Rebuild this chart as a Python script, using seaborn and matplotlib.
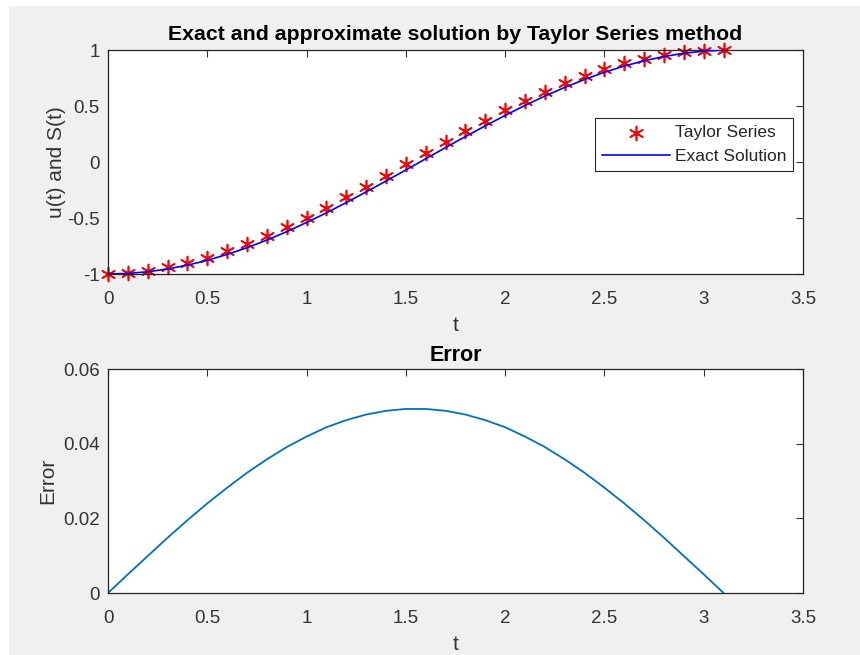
import matplotlib
matplotlib.use("Agg")
import matplotlib.pyplot as plt
from matplotlib.patches import Rectangle
import seaborn as sns
import pandas as pd

t_vals = [0.0, 0.1, 0.2, 0.3, 0.4, 0.5, 0.6, 0.7, 0.8, 0.9, 1.0, 1.1, 1.2, 1.3, 1.4, 1.5,
          1.6, 1.7, 1.8, 1.9, 2.0, 2.1, 2.2, 2.3, 2.4, 2.5, 2.6, 2.7, 2.8, 2.9, 3.0, 3.1]
exact_vals = [-1.000, -0.995, -0.980, -0.955, -0.921, -0.878, -0.825, -0.765, -0.697, -0.622,
              -0.540, -0.454, -0.362, -0.267, -0.170, -0.071, 0.029, 0.129, 0.227, 0.323,
              0.416, 0.505, 0.589, 0.666, 0.737, 0.801, 0.857, 0.904, 0.942, 0.971, 0.990, 0.999]
taylor_vals = [-1.000, -0.990, -0.970, -0.940, -0.902, -0.854, -0.797, -0.733, -0.661, -0.583,
               -0.498, -0.410, -0.316, -0.219, -0.121, -0.022, 0.078, 0.178, 0.275, 0.369,
               0.460, 0.547, 0.628, 0.702, 0.769, 0.829, 0.881, 0.924, 0.957, 0.981, 0.995, 0.999]
error_vals = [0.0000, 0.0050, 0.0099, 0.0148, 0.0195, 0.0240, 0.0282, 0.0322, 0.0358, 0.0391,
              0.0419, 0.0444, 0.0463, 0.0478, 0.0488, 0.0493, 0.0493, 0.0488, 0.0478, 0.0463,
              0.0444, 0.0419, 0.0391, 0.0358, 0.0322, 0.0282, 0.0240, 0.0195, 0.0148, 0.0099,
              0.0050, 0.0000]

x_ticks = [0, 0.5, 1, 1.5, 2, 2.5, 3, 3.5]
x_tick_labels = ["0", "0.5", "1", "1.5", "2", "2.5", "3", "3.5"]
y1_ticks = [-1, -0.5, 0, 0.5, 1]
y1_tick_labels = ["-1", "-0.5", "0", "0.5", "1"]
y2_ticks = [0, 0.02, 0.04, 0.06]
y2_tick_labels = ["0", "0.02", "0.04", "0.06"]

df = pd.DataFrame({"t": t_vals, "exact": exact_vals, "taylor": taylor_vals, "error": error_vals})

sns.set_style("white")
plt.rcParams["font.family"] = ["Liberation Sans", "DejaVu Sans"]

fig = plt.figure(figsize=(8.6, 6.55), dpi=100, facecolor="white")
fig.add_artist(Rectangle((9 / 860, 0), 1, 1 - 6 / 655, transform=fig.transFigure,
                         facecolor="#f0f0f0", edgecolor="none", zorder=-10))

ax1 = fig.add_axes([108 / 860, 1 - 274 / 655, 695 / 860, 224 / 655])
ax2 = fig.add_axes([108 / 860, 1 - 593 / 655, 695 / 860, 224 / 655])

asterisk = (6, 2, 0)
sns.scatterplot(data=df, x="t", y="taylor", ax=ax1, marker=asterisk, s=100,
                color="red", edgecolor="red", linewidth=1.2, label="Taylor Series",
                zorder=2, clip_on=False)
sns.lineplot(data=df, x="t", y="exact", ax=ax1, color="blue", linewidth=1.2,
             label="Exact Solution", zorder=3)
sns.lineplot(data=df, x="t", y="error", ax=ax2, color="#0072BD", linewidth=1.3)

for ax, yt, ytl, ylim in [(ax1, y1_ticks, y1_tick_labels, (-1, 1)),
                          (ax2, y2_ticks, y2_tick_labels, (0, 0.06))]:
    ax.set_facecolor("white")
    ax.set_xlim(0, 3.5)
    ax.set_ylim(*ylim)
    ax.set_xticks(x_ticks)
    ax.set_xticklabels(x_tick_labels)
    ax.set_yticks(yt)
    ax.set_yticklabels(ytl)
    ax.tick_params(direction="in", length=5, width=0.8, top=True, right=True,
                   labelsize=13.5, colors="#333333")
    ax.tick_params(axis="x", pad=12)
    ax.tick_params(axis="y", pad=6)
    for sp in ax.spines.values():
        sp.set_visible(True)
        sp.set_color("#262626")
        sp.set_linewidth(0.9)
    ax.set_xlabel("t", fontsize=15, color="#333333", labelpad=6)

ax1.set_ylabel("u(t) and S(t)", fontsize=15, color="#333333", labelpad=1)
ax2.set_ylabel("Error", fontsize=15, color="#333333", labelpad=4)
ax1.set_title("Exact and approximate solution by Taylor Series method", fontsize=15.3,
              fontweight="bold", color="#000000", pad=7)
ax2.set_title("Error", fontsize=15.5, fontweight="bold", color="#000000", pad=6)

leg = ax1.legend(loc="upper right", bbox_to_anchor=(0.986, 0.695), fontsize=12.5,
                 frameon=True, fancybox=False, framealpha=1, edgecolor="#262626",
                 borderpad=0.4, handlelength=3.9, handletextpad=0.3, borderaxespad=0,
                 labelspacing=0.5)
leg.get_frame().set_linewidth(0.8)

fig.savefig("out.png", dpi=100, facecolor=fig.get_facecolor())
